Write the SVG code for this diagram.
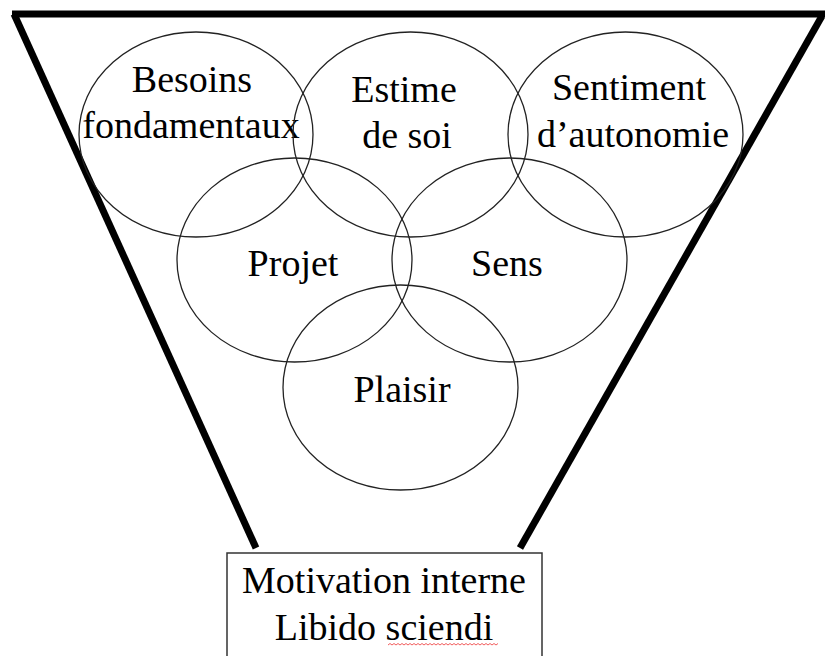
<svg xmlns="http://www.w3.org/2000/svg" width="825" height="656" viewBox="0 0 825 656">
<style>
.funnel{stroke:#000;stroke-width:7;fill:none;stroke-linecap:butt}
.c{fill:none;stroke:#222;stroke-width:1.3}
.t{font-family:"Liberation Serif","Times New Roman",serif;font-size:38px;fill:#000;text-anchor:middle}
</style>
<rect width="825" height="656" fill="#fff"/>
<g id="connectors">
<path class="funnel" d="M12,14 H825"/>
<path class="funnel" d="M14,14 L256,548"/>
<path class="funnel" d="M822,16 L520,548"/>
</g>
<g id="besoins"><ellipse class="c" cx="196" cy="134.5" rx="117" ry="102.5"/><text class="t" x="192" y="92">Besoins</text><text class="t" x="191" y="138">fondamentaux</text></g>
<g id="estime"><ellipse class="c" cx="410.5" cy="134.5" rx="117.5" ry="102.5"/><text class="t" x="404" y="102">Estime</text><text class="t" x="407" y="148">de soi</text></g>
<g id="sentiment"><ellipse class="c" cx="625.5" cy="134.5" rx="117.5" ry="102.5"/><text class="t" x="629" y="100">Sentiment</text><text class="t" x="633" y="147">d’autonomie</text></g>
<g id="projet"><ellipse class="c" cx="294.5" cy="260" rx="117.5" ry="102"/><text class="t" x="293" y="276">Projet</text></g>
<g id="sens"><ellipse class="c" cx="509.5" cy="260" rx="117.5" ry="102"/><text class="t" x="507" y="276">Sens</text></g>
<g id="plaisir"><ellipse class="c" cx="400.5" cy="387.5" rx="117.5" ry="102.5"/><text class="t" x="402" y="402">Plaisir</text></g>
<g id="motivation">
<rect x="227" y="553" width="315" height="110" fill="#fff" stroke="#333" stroke-width="1.5"/>
<text class="t" x="384" y="593">Motivation interne</text>
<text class="t" x="384" y="640">Libido sciendi</text>
<path d="M388,645 l2,-1.5 l2,1.5 l2,-1.5 l2,1.5 l2,-1.5 l2,1.5 l2,-1.5 l2,1.5 l2,-1.5 l2,1.5 l2,-1.5 l2,1.5 l2,-1.5 l2,1.5 l2,-1.5 l2,1.5 l2,-1.5 l2,1.5 l2,-1.5 l2,1.5 l2,-1.5 l2,1.5 l2,-1.5 l2,1.5 l2,-1.5 l2,1.5 l2,-1.5 l2,1.5 l2,-1.5 l2,1.5 l2,-1.5 l2,1.5 l2,-1.5 l2,1.5 l2,-1.5 l2,1.5 l2,-1.5 l2,1.5 l2,-1.5 l2,1.5 l2,-1.5 l2,1.5 l2,-1.5 l2,1.5 l2,-1.5 l2,1.5 l2,-1.5 l2,1.5 l2,-1.5 l2,1.5 l2,-1.5 l2,1.5 l2,-1.5 l2,1.5 l2,-1.5" fill="none" stroke="#e33" stroke-width="0.8"/>
</g>
</svg>
